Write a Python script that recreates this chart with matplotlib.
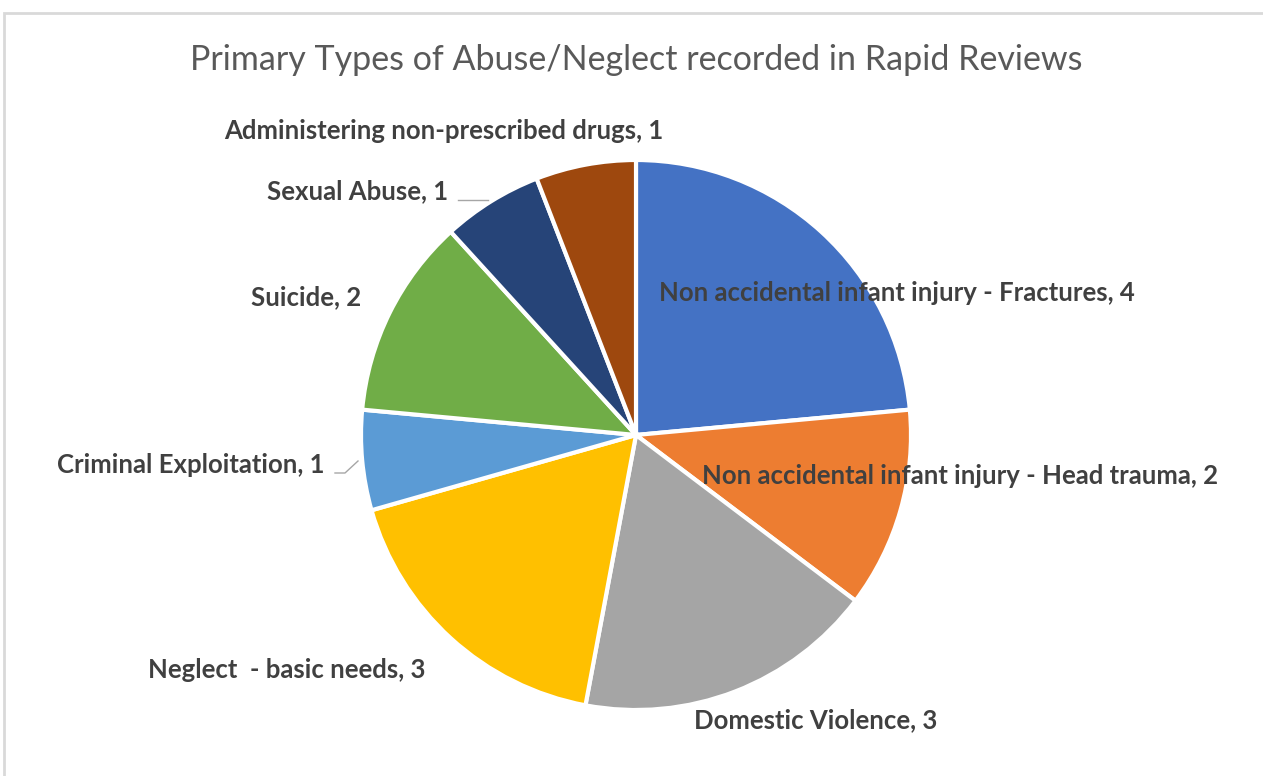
import matplotlib.pyplot as plt
from matplotlib.patches import Rectangle

# data
categories = [
    "Non accidental infant injury - Fractures",
    "Non accidental infant injury - Head trauma",
    "Domestic Violence",
    "Neglect  - basic needs",
    "Criminal Exploitation",
    "Suicide",
    "Sexual Abuse",
    "Administering non-prescribed drugs",
]
counts = [4, 2, 3, 3, 1, 2, 1, 1]
colors = ["#4472C4", "#ED7D31", "#A5A5A5", "#FFC000",
          "#5B9BD5", "#70AD47", "#264478", "#9E480E"]

# label centres in pixel coords (x, y from top)
label_pos = [(897, 293), (960, 476), (816, 720), (287, 670),
             (191, 465), (306, 297), (358, 191), (444, 131)]

W, H = 1263, 776
fig = plt.figure(figsize=(W / 100, H / 100), dpi=100)
ax = fig.add_axes([0, 0, 1, 1])
ax.set_xlim(0, W)
ax.set_ylim(0, H)
ax.set_aspect("equal")
ax.axis("off")

# chart border
ax.add_patch(Rectangle((4, -10), W + 20, H - 13 + 10, fill=False,
                       edgecolor="#D9D9D9", linewidth=2))

ax.pie(counts, colors=colors, startangle=90, counterclock=False,
       center=(636, H - 435), radius=275,
       wedgeprops=dict(edgecolor="white", linewidth=3))
ax.set_xlim(0, W)
ax.set_ylim(0, H)

for name, n, (x, y) in zip(categories, counts, label_pos):
    ax.text(x, H - y, f"{name}, {n}", ha="center", va="center",
            fontsize=18.5, fontweight="bold", color="#404040", family="Lato")

# leader lines
ax.plot([458, 488], [H - 200, H - 200], color="#A6A6A6", lw=1)
ax.plot([335, 345, 358], [H - 473, H - 473, H - 461], color="#A6A6A6", lw=1)

ax.text(636, H - 60, "Primary Types of Abuse/Neglect recorded in Rapid Reviews",
        ha="center", va="center", fontsize=24.5, color="#595959", family="Lato")

fig.savefig("out.png", dpi=100)
